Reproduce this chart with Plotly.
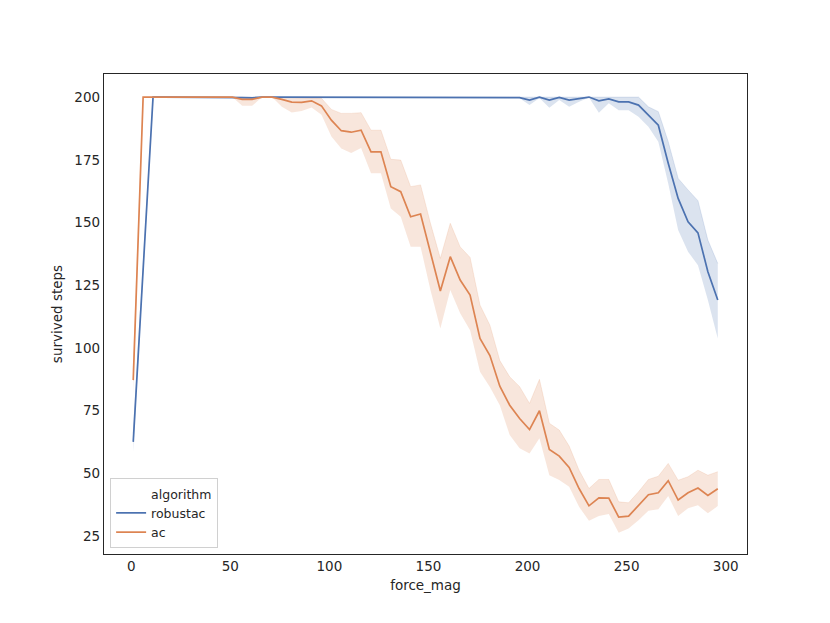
import plotly.graph_objects as go

force_mag = [1, 6, 11, 16, 21, 26, 31, 36, 41, 46, 51, 56, 61, 66, 71, 76, 81, 86, 91, 96,
             101, 106, 111, 116, 121, 126, 131, 136, 141, 146, 151, 156, 161, 166, 171, 176, 181, 186, 191, 196,
             201, 206, 211, 216, 221, 226, 231, 236, 241, 246, 251, 256, 261, 266, 271, 276, 281, 286, 291, 296]

robustac_mean = [62.6, 131, 200, 200, 200, 200, 200, 200, 200, 200, 200, 199.8, 199.7, 200, 200, 200, 200, 200, 200, 200,
                 200, 200, 200, 200, 200, 200, 200, 200, 200, 200, 200, 200, 200, 200, 200, 200, 200, 200, 200, 199.8,
                 198.8, 200, 198.8, 199.9, 198.8, 199.5, 200, 198.5, 199.3, 198.1, 198.1, 196.8, 192.8, 188.8, 173.6, 159.6, 150.3, 145.9, 130.4, 119.1]
robustac_lo = [58.6, 127, 200, 200, 200, 200, 200, 200, 200, 200, 200, 199.0, 198.8, 200, 200, 200, 200, 200, 200, 200,
               200, 200, 200, 200, 200, 200, 200, 200, 200, 200, 200, 200, 200, 200, 200, 200, 200, 200, 200, 199.5,
               196.8, 199.6, 195.7, 198.8, 196.1, 198.1, 199.8, 193.8, 197.5, 194.8, 194.8, 192.2, 188.2, 182.2, 165.6, 147.0, 138.4, 133.0, 119.1, 103.8]
robustac_hi = [66, 135, 200, 200, 200, 200, 200, 200, 200, 200, 200, 200, 200, 200, 200, 200, 200, 200, 200, 200,
               200, 200, 200, 200, 200, 200, 200, 200, 200, 200, 200, 200, 200, 200, 200, 200, 200, 200, 200, 200,
               200, 200, 200, 200, 200, 200, 200, 200, 200, 200, 200, 200, 196.1, 194.2, 182.2, 167.6, 163.0, 158.7, 143.0, 133.7]

ac_mean = [87.2, 200, 200, 200, 200, 200, 200, 200, 200, 200, 200, 199.1, 199.1, 200, 200, 199.1, 198.0, 197.9, 198.5, 196.5,
           190.8, 186.6, 186.0, 186.8, 178.2, 178.2, 164.3, 162.3, 152.3, 153.4, 137.7, 122.7, 136.4, 127.1, 121.1, 103.8, 97.0, 84.8, 77.2, 71.9,
           67.5, 75.0, 59.6, 56.9, 52.4, 44.0, 37.1, 40.3, 40.2, 32.6, 33.0, 37.1, 41.5, 42.3, 47.1, 39.4, 42.3, 44.2, 41.2, 43.9]
ac_lo = [82.0, 200, 200, 200, 200, 200, 200, 200, 200, 200, 200, 196.5, 196.5, 200, 200, 196.1, 193.9, 194.5, 195.8, 193.0,
         184.3, 179.5, 177.7, 179.7, 169.6, 169.6, 155.6, 152.3, 140.4, 140.4, 123.1, 107.8, 123.1, 113.8, 107.1, 90.5, 84.5, 77.2, 65.3, 60.0,
         58.0, 64.0, 49.3, 47.4, 44.7, 36.7, 31.2, 33.0, 33.8, 26.4, 28.1, 31.4, 35.1, 35.7, 41.0, 33.0, 36.1, 37.3, 34.1, 37.0]
ac_hi = [91.0, 200, 200, 200, 200, 200, 200, 200, 200, 200, 200, 200, 200, 200, 200, 200, 199.8, 199.7, 199.5, 199.5,
         195.1, 193.5, 193.5, 193.8, 186.8, 186.8, 175.2, 174.9, 164.3, 165.0, 149.7, 135.7, 149.7, 140.3, 136.1, 117.1, 109.1, 95.0, 88.5, 84.6,
         77.9, 87.5, 70.0, 67.3, 60.9, 51.3, 44.0, 47.6, 47.6, 38.7, 38.3, 42.7, 47.6, 48.9, 54.0, 47.3, 48.7, 51.3, 49.3, 50.7]

BLUE = "#4C72B0"
ORANGE = "#DD8452"
BLUE_FILL = "rgba(76,114,176,0.2)"
ORANGE_FILL = "rgba(221,132,82,0.2)"
FONT = "DejaVu Sans"
TXT = "#262626"

fig = go.Figure()

# legend title entry (seaborn-style)
fig.add_trace(go.Scatter(x=[None], y=[None], mode="lines", name="algorithm",
                         line=dict(color="rgba(0,0,0,0)", width=1.5), showlegend=True))

for name, lo, hi, fill in [("robustac", robustac_lo, robustac_hi, BLUE_FILL),
                           ("ac", ac_lo, ac_hi, ORANGE_FILL)]:
    fig.add_trace(go.Scatter(x=force_mag, y=lo, mode="lines", line=dict(width=0, color=fill),
                             showlegend=False, hoverinfo="skip"))
    fig.add_trace(go.Scatter(x=force_mag, y=hi, mode="lines", line=dict(width=0.8, color=fill),
                             fill="tonexty", fillcolor=fill, showlegend=False, hoverinfo="skip"))

fig.add_trace(go.Scatter(x=force_mag, y=robustac_mean, mode="lines", name="robustac",
                         line=dict(color=BLUE, width=1.7)))
fig.add_trace(go.Scatter(x=force_mag, y=ac_mean, mode="lines", name="ac",
                         line=dict(color=ORANGE, width=1.7)))

axis_common = dict(showline=True, mirror=True, linecolor=TXT, linewidth=1.3,
                   showgrid=False, zeroline=False, ticks="", automargin=False,
                   tickfont=dict(family=FONT, size=13.5, color=TXT))

fig.update_layout(
    width=830, height=623,
    margin=dict(l=96, r=91, t=66, b=77),
    paper_bgcolor="white", plot_bgcolor="white",
    font=dict(family=FONT, size=13.5, color=TXT),
    xaxis=dict(range=[-13.75, 310.75], tickvals=[0, 50, 100, 150, 200, 250, 300],
               title=dict(text="force_mag", font=dict(family=FONT, size=13.5, color=TXT), standoff=7),
               **axis_common),
    yaxis=dict(range=[17.9, 209.2], tickvals=[25, 50, 75, 100, 125, 150, 175, 200],
               title=dict(text="survived steps", font=dict(family=FONT, size=13.5, color=TXT), standoff=8),
               **axis_common),
    legend=dict(x=0.0095, y=0.0125, xanchor="left", yanchor="bottom",
                bgcolor="rgba(255,255,255,0.8)", bordercolor="#d0d0d0", borderwidth=1,
                font=dict(family=FONT, size=12.5, color=TXT), itemwidth=30,
                traceorder="normal", tracegroupgap=0),
    showlegend=True,
)

fig.write_html("out.html")
